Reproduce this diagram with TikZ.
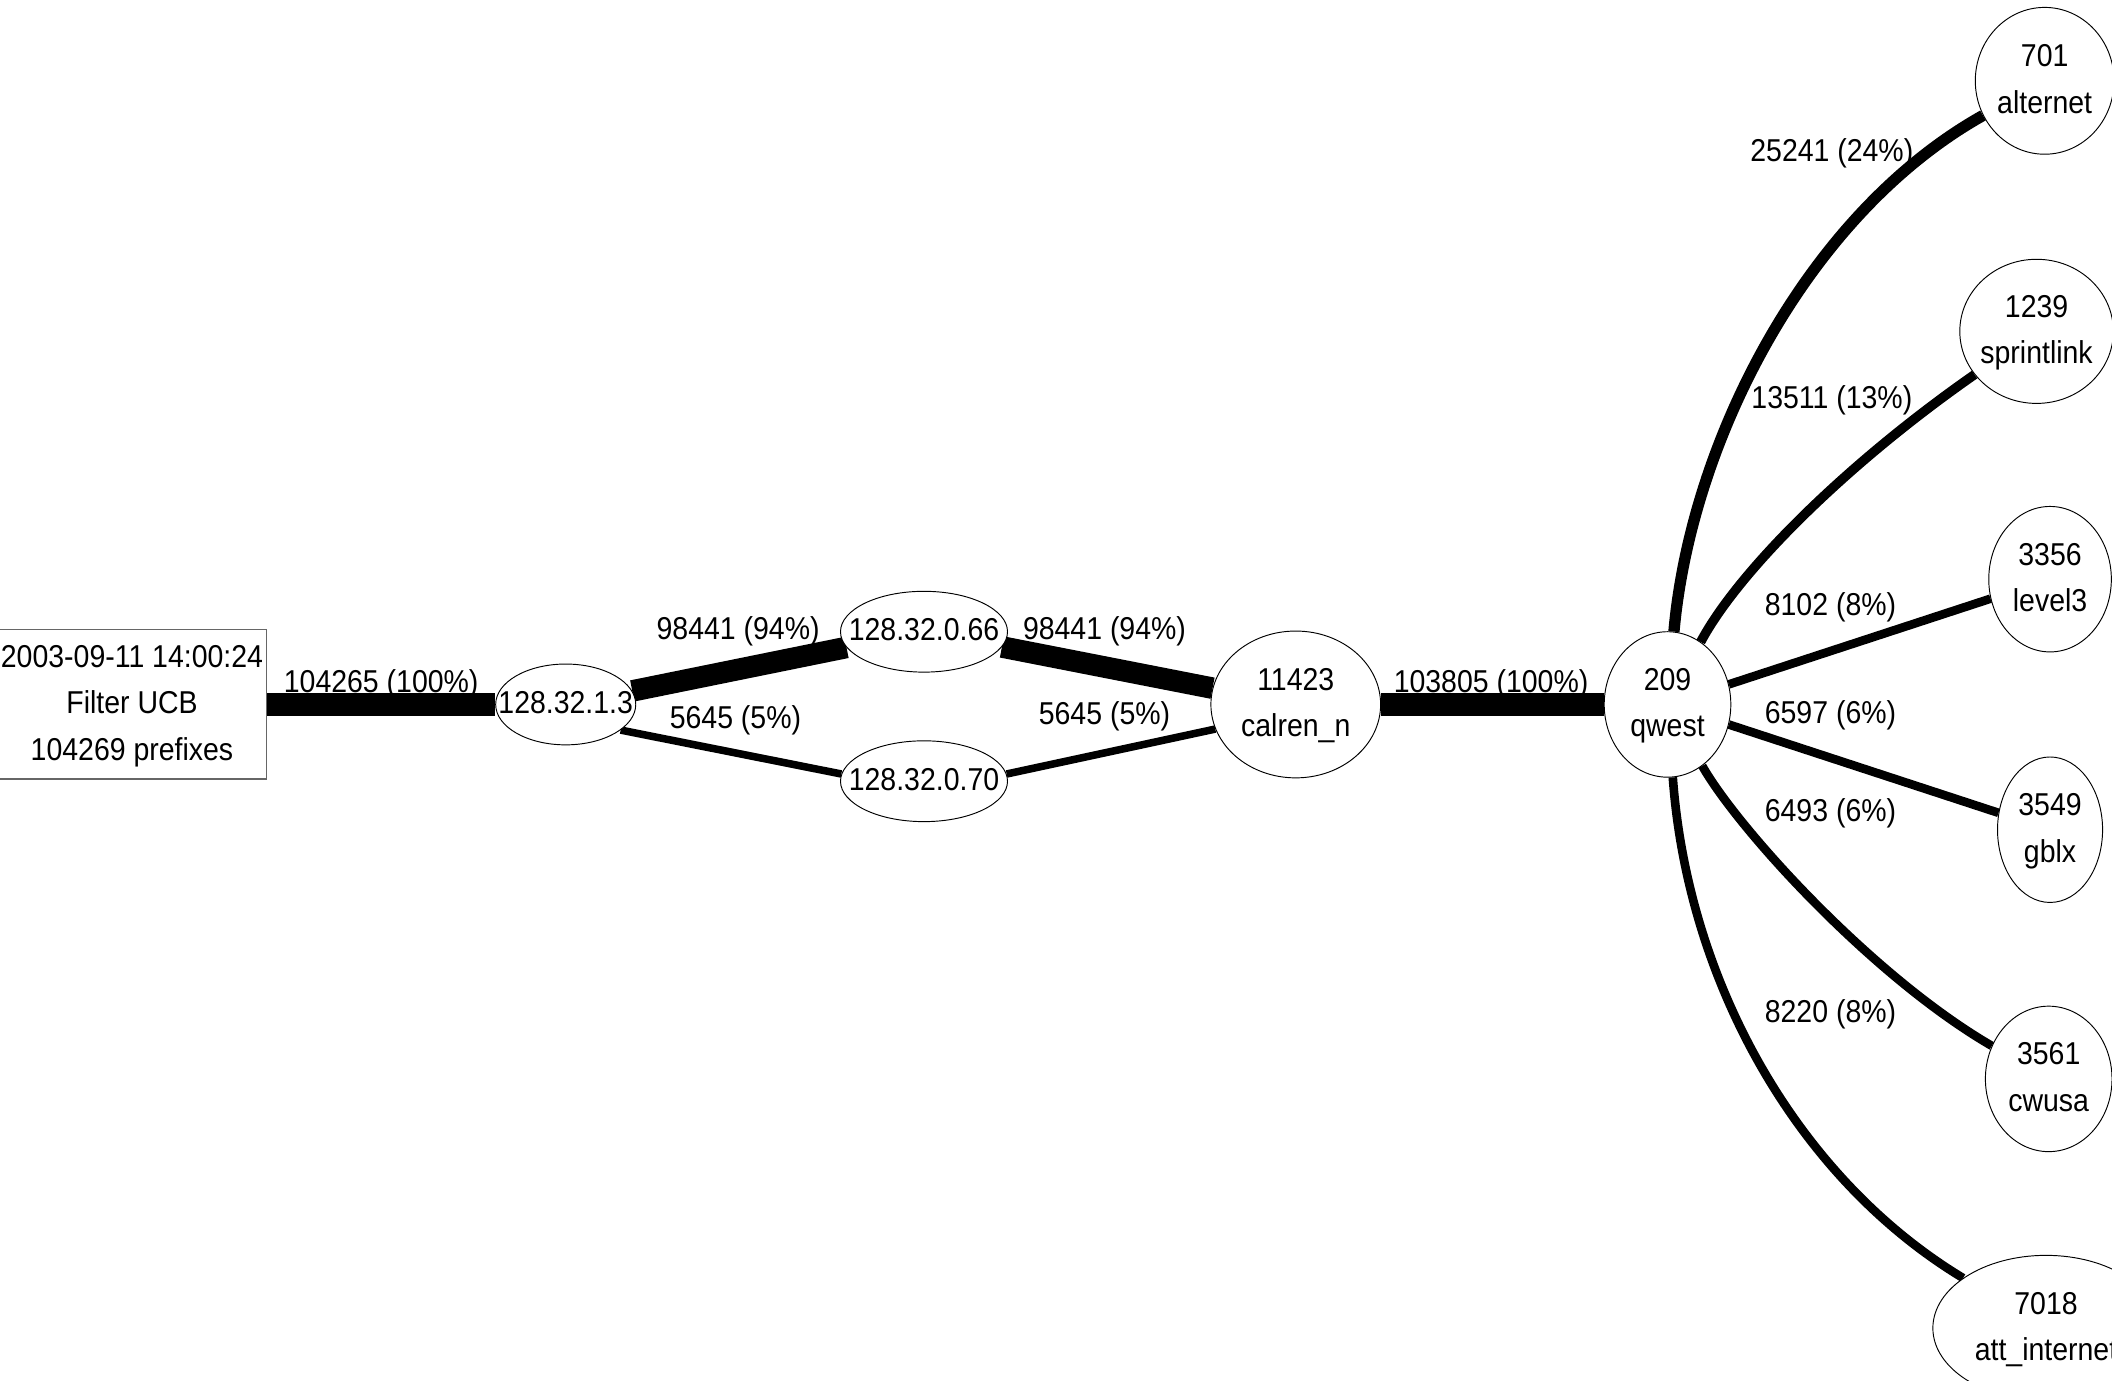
\documentclass[tikz,border=0pt]{standalone}
\usepackage{fontspec}
\setmainfont{Liberation Sans}[FakeStretch=0.9]
\usetikzlibrary{shapes.geometric,backgrounds}

\newcommand{\stacked}[1]{\makebox[0pt]{\begin{tabular}{@{}c@{}}#1\end{tabular}}}

\tikzstyle{weight} = [anchor=base,inner sep=0pt]
\tikzstyle{asnode} = [shape=ellipse,draw,line width=0.5pt,fill=white,inner sep=0pt]
\tikzstyle{filterbox} = [shape=rectangle,draw=black!60,line width=0.8pt,fill=white,inner sep=0pt]
\tikzstyle{edge} = [draw,black,-]

\begin{document}
\begin{tikzpicture}[x=0.25mm,y=-0.25mm,font=\fontsize{16.7}{24.5}\selectfont]
    \useasboundingbox (0,0) rectangle (1568,1025);

    \node[filterbox, minimum width=50mm, minimum height=27.75mm] (src) at (98,523)
      {\stacked{2003-09-11 14:00:24\\Filter UCB\\104269 prefixes}};

    \foreach \nodename/\txt/\x/\y/\w/\h in {
      r1/{128.32.1.3}/420/523/26/15,
      r66/{128.32.0.66}/686/469/31/15,
      r70/{128.32.0.70}/686/580/31/15,
      calren/{11423\\calren\_n}/962/523/31.5/27.25,
      qwest/{209\\qwest}/1238/523/23.5/27,
      alt/{701\\alternet}/1518/60/25.75/27.25,
      sprint/{1239\\sprintlink}/1512/246/28.5/26.75,
      level3/{3356\\level3}/1522/430/22.75/27,
      gblx/{3549\\gblx}/1522/616/19.5/27,
      cwusa/{3561\\cwusa}/1521/801/23.5/27,
      att/{7018\\att\_internet}/1519/986/42/27}
    {
      \node[asnode, minimum width=\w mm, minimum height=\h mm] (\nodename) at (\x,\y) {\stacked{\txt}};
    }

    %edges
    \begin{pgfonlayer}{background}
      \foreach \startnode/\endnode/\wd in {
        src/r1/4.25, r1/r66/4, r66/calren/4, r1.-25/r70.175/1.4, r70.5/calren.197/1.4,
        calren/qwest/4.25, qwest/level3/1.6, qwest/gblx/1.6}
      {
        \path[edge, line width=\wd mm] (\startnode) -- (\endnode);
      }
      \path[edge, line width=2.1mm] (qwest) .. controls (1255,330) and (1340,160) .. (alt);
      \path[edge, line width=1.75mm] (qwest) .. controls (1290,425) and (1370,345) .. (sprint);
      \path[edge, line width=1.6mm] (qwest) .. controls (1290,615) and (1390,725) .. (cwusa);
      \path[edge, line width=1.6mm] (qwest) .. controls (1253,730) and (1335,875) .. (att);
    \end{pgfonlayer}

    %edge weights
    \foreach \lname/\x/\y/\txt in {
      w1/283/514/{104265 (100\%)},
      w2/548/475/{98441 (94\%)},
      w3/820/475/{98441 (94\%)},
      w4/546/541/{5645 (5\%)},
      w5/820/538/{5645 (5\%)},
      w6/1107/514/{103805 (100\%)},
      w7/1360/120/{25241 (24\%)},
      w8/1360/303/{13511 (13\%)},
      w9/1359/457/{8102 (8\%)},
      w10/1359/537/{6597 (6\%)},
      w11/1359/610/{6493 (6\%)},
      w12/1359/759/{8220 (8\%)}}
    {
      \node[weight] (\lname) at (\x,\y) {\txt};
    }
\end{tikzpicture}
\end{document}
